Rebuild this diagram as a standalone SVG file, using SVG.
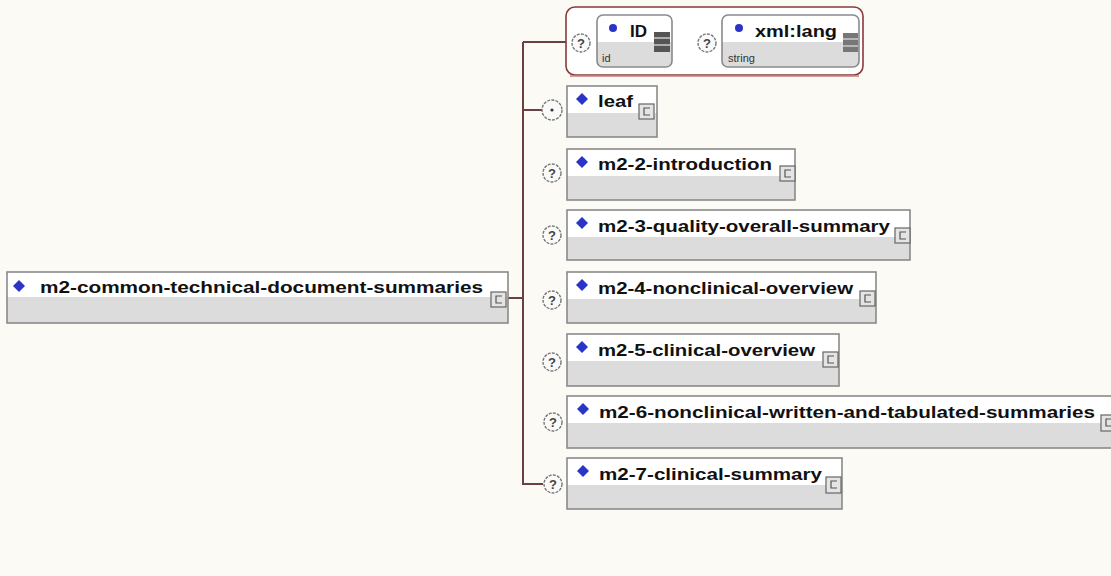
<svg xmlns="http://www.w3.org/2000/svg" width="1111" height="576" viewBox="0 0 1111 576">
<defs>
<style>
.bg{fill:#fbfaf4}
.top{fill:#ffffff}
.bot{fill:#dcdcdc}
.frame{fill:none;stroke:#8a8a8a;stroke-width:1.6}
.lbl{font-family:"Liberation Sans",Arial,sans-serif;font-weight:bold;font-size:16px;fill:#111}
.sub{font-family:"Liberation Sans",Arial,sans-serif;font-size:11px;fill:#333}
.card{fill:#fafafa;stroke:#777;stroke-width:1.4;stroke-dasharray:3 1.2}
.q{font-family:"Liberation Sans",Arial,sans-serif;font-weight:bold;font-size:13px;fill:#444;text-anchor:middle}
.dia{fill:#2a35c8}
.ico{fill:#e4e4e4;stroke:#666;stroke-width:1.2}
.icg{fill:none;stroke:#555;stroke-width:1.2}
.conn{fill:none;stroke:#6a4040;stroke-width:2}
</style>
</defs>
<rect class="bg" x="0" y="0" width="1111" height="576"/>

<g id="connectors">
<path class="conn" d="M508,298 H523"/>
<path class="conn" d="M523,42 V485"/>
<path class="conn" stroke="#777" d="M523,42 H566"/>
<path class="conn" d="M523,110 H542"/>
<path class="conn" d="M523,484 H543"/>
</g>

<g id="root">
<rect class="top" x="7" y="272" width="501" height="51"/>
<rect class="bot" x="7" y="297" width="501" height="26"/>
<rect class="frame" x="7" y="272" width="501" height="51"/>
<path class="dia" d="M19,280 L25,286 L19,292 L13,286 Z"/>
<text class="lbl" x="40" y="293" textLength="443" lengthAdjust="spacingAndGlyphs">m2-common-technical-document-summaries</text>
<rect class="ico" x="491" y="292" width="15" height="15"/>
<path class="icg" d="M502,296 H496 V303 H502"/>
</g>

<g id="attributes">
<rect x="566" y="7" width="297" height="68" rx="9" fill="#ffffff" stroke="#8b3a3a" stroke-width="1.6"/>
<path d="M570,76 H859" stroke="#c08080" stroke-width="1.5"/>
<g id="attr-ID">
<circle class="card" cx="581" cy="43" r="9"/>
<text class="q" x="581" y="47.5">?</text>
<rect x="597" y="15" width="75" height="52" rx="6" fill="#ffffff"/>
<path d="M597,42 H672 V61 a6,6 0 0 1 -6,6 H603 a6,6 0 0 1 -6,-6 Z" class="bot"/>
<rect class="frame" x="597" y="15" width="75" height="52" rx="6"/>
<circle cx="613" cy="28" r="4" class="dia"/>
<text class="lbl" x="630" y="37" textLength="17" lengthAdjust="spacingAndGlyphs">ID</text>
<text class="sub" x="602" y="62">id</text>
<rect x="654" y="32" width="16" height="20" fill="#555"/>
<path d="M654,38 H670 M654,45 H670" stroke="#ccc" stroke-width="1.5"/>
</g>
<g id="attr-xmllang">
<circle class="card" cx="707" cy="43" r="9"/>
<text class="q" x="707" y="47.5">?</text>
<rect x="722" y="15" width="137" height="52" rx="6" fill="#ffffff"/>
<path d="M722,42 H859 V61 a6,6 0 0 1 -6,6 H728 a6,6 0 0 1 -6,-6 Z" class="bot"/>
<rect class="frame" x="722" y="15" width="137" height="52" rx="6"/>
<circle cx="739" cy="28" r="4" class="dia"/>
<text class="lbl" x="755" y="37" textLength="82" lengthAdjust="spacingAndGlyphs">xml:lang</text>
<text class="sub" x="728" y="62">string</text>
<rect x="843" y="33" width="15" height="19" fill="#777"/>
<path d="M843,39 H858 M843,46 H858" stroke="#ccc" stroke-width="1.5"/>
</g>
</g>

<g id="leaf">
<circle class="card" cx="552" cy="110" r="10"/>
<circle cx="552" cy="110" r="1.6" fill="#334"/>
<rect class="top" x="567" y="86" width="90" height="51"/>
<rect class="bot" x="567" y="113" width="90" height="24"/>
<rect class="frame" x="567" y="86" width="90" height="51"/>
<path class="dia" d="M582,93 L588,99 L582,105 L576,99 Z"/>
<text class="lbl" x="598" y="107" textLength="35" lengthAdjust="spacingAndGlyphs">leaf</text>
<rect class="ico" x="639" y="104" width="15" height="15"/>
<path class="icg" d="M650,108 H644 V115 H650"/>
</g>

<g id="m2-2">
<circle class="card" cx="552" cy="173" r="9"/>
<text class="q" x="552" y="177.5">?</text>
<rect class="top" x="567" y="149" width="228" height="51"/>
<rect class="bot" x="567" y="176" width="228" height="24"/>
<rect class="frame" x="567" y="149" width="228" height="51"/>
<path class="dia" d="M582,156 L588,162 L582,168 L576,162 Z"/>
<text class="lbl" x="598" y="170" textLength="174" lengthAdjust="spacingAndGlyphs">m2-2-introduction</text>
<rect class="ico" x="780" y="166" width="15" height="15"/>
<path class="icg" d="M791,170 H785 V177 H791"/>
</g>

<g id="m2-3">
<circle class="card" cx="552" cy="235" r="9"/>
<text class="q" x="552" y="239.5">?</text>
<rect class="top" x="567" y="210" width="343" height="50"/>
<rect class="bot" x="567" y="237" width="343" height="23"/>
<rect class="frame" x="567" y="210" width="343" height="50"/>
<path class="dia" d="M582,217 L588,223 L582,229 L576,223 Z"/>
<text class="lbl" x="598" y="232" textLength="292" lengthAdjust="spacingAndGlyphs">m2-3-quality-overall-summary</text>
<rect class="ico" x="895" y="228" width="15" height="15"/>
<path class="icg" d="M906,232 H900 V239 H906"/>
</g>

<g id="m2-4">
<circle class="card" cx="552" cy="300" r="9"/>
<text class="q" x="552" y="304.5">?</text>
<rect class="top" x="567" y="272" width="309" height="51"/>
<rect class="bot" x="567" y="299" width="309" height="24"/>
<rect class="frame" x="567" y="272" width="309" height="51"/>
<path class="dia" d="M582,279 L588,285 L582,291 L576,285 Z"/>
<text class="lbl" x="598" y="294" textLength="255" lengthAdjust="spacingAndGlyphs">m2-4-nonclinical-overview</text>
<rect class="ico" x="860" y="291" width="15" height="15"/>
<path class="icg" d="M871,295 H865 V302 H871"/>
</g>

<g id="m2-5">
<circle class="card" cx="552" cy="362" r="9"/>
<text class="q" x="552" y="366.5">?</text>
<rect class="top" x="567" y="334" width="272" height="52"/>
<rect class="bot" x="567" y="361" width="272" height="25"/>
<rect class="frame" x="567" y="334" width="272" height="52"/>
<path class="dia" d="M582,341 L588,347 L582,353 L576,347 Z"/>
<text class="lbl" x="598" y="356" textLength="217" lengthAdjust="spacingAndGlyphs">m2-5-clinical-overview</text>
<rect class="ico" x="823" y="352" width="15" height="15"/>
<path class="icg" d="M834,356 H828 V363 H834"/>
</g>

<g id="m2-6">
<circle class="card" cx="553" cy="422" r="9"/>
<text class="q" x="553" y="426.5">?</text>
<rect class="top" x="567" y="396" width="550" height="52"/>
<rect class="bot" x="567" y="423" width="550" height="25"/>
<rect class="frame" x="567" y="396" width="550" height="52"/>
<path class="dia" d="M583,403 L589,409 L583,415 L577,409 Z"/>
<text class="lbl" x="599" y="418" textLength="496" lengthAdjust="spacingAndGlyphs">m2-6-nonclinical-written-and-tabulated-summaries</text>
<rect class="ico" x="1101" y="415" width="15" height="16"/>
<path class="icg" d="M1112,419 H1106 V426 H1112"/>
</g>

<g id="m2-7">
<circle class="card" cx="553" cy="484" r="9"/>
<text class="q" x="553" y="488.5">?</text>
<rect class="top" x="567" y="458" width="275" height="51"/>
<rect class="bot" x="567" y="485" width="275" height="24"/>
<rect class="frame" x="567" y="458" width="275" height="51"/>
<path class="dia" d="M583,465 L589,471 L583,477 L577,471 Z"/>
<text class="lbl" x="599" y="480" textLength="223" lengthAdjust="spacingAndGlyphs">m2-7-clinical-summary</text>
<rect class="ico" x="826" y="477" width="15" height="16"/>
<path class="icg" d="M837,481 H831 V488 H837"/>
</g>
</svg>
